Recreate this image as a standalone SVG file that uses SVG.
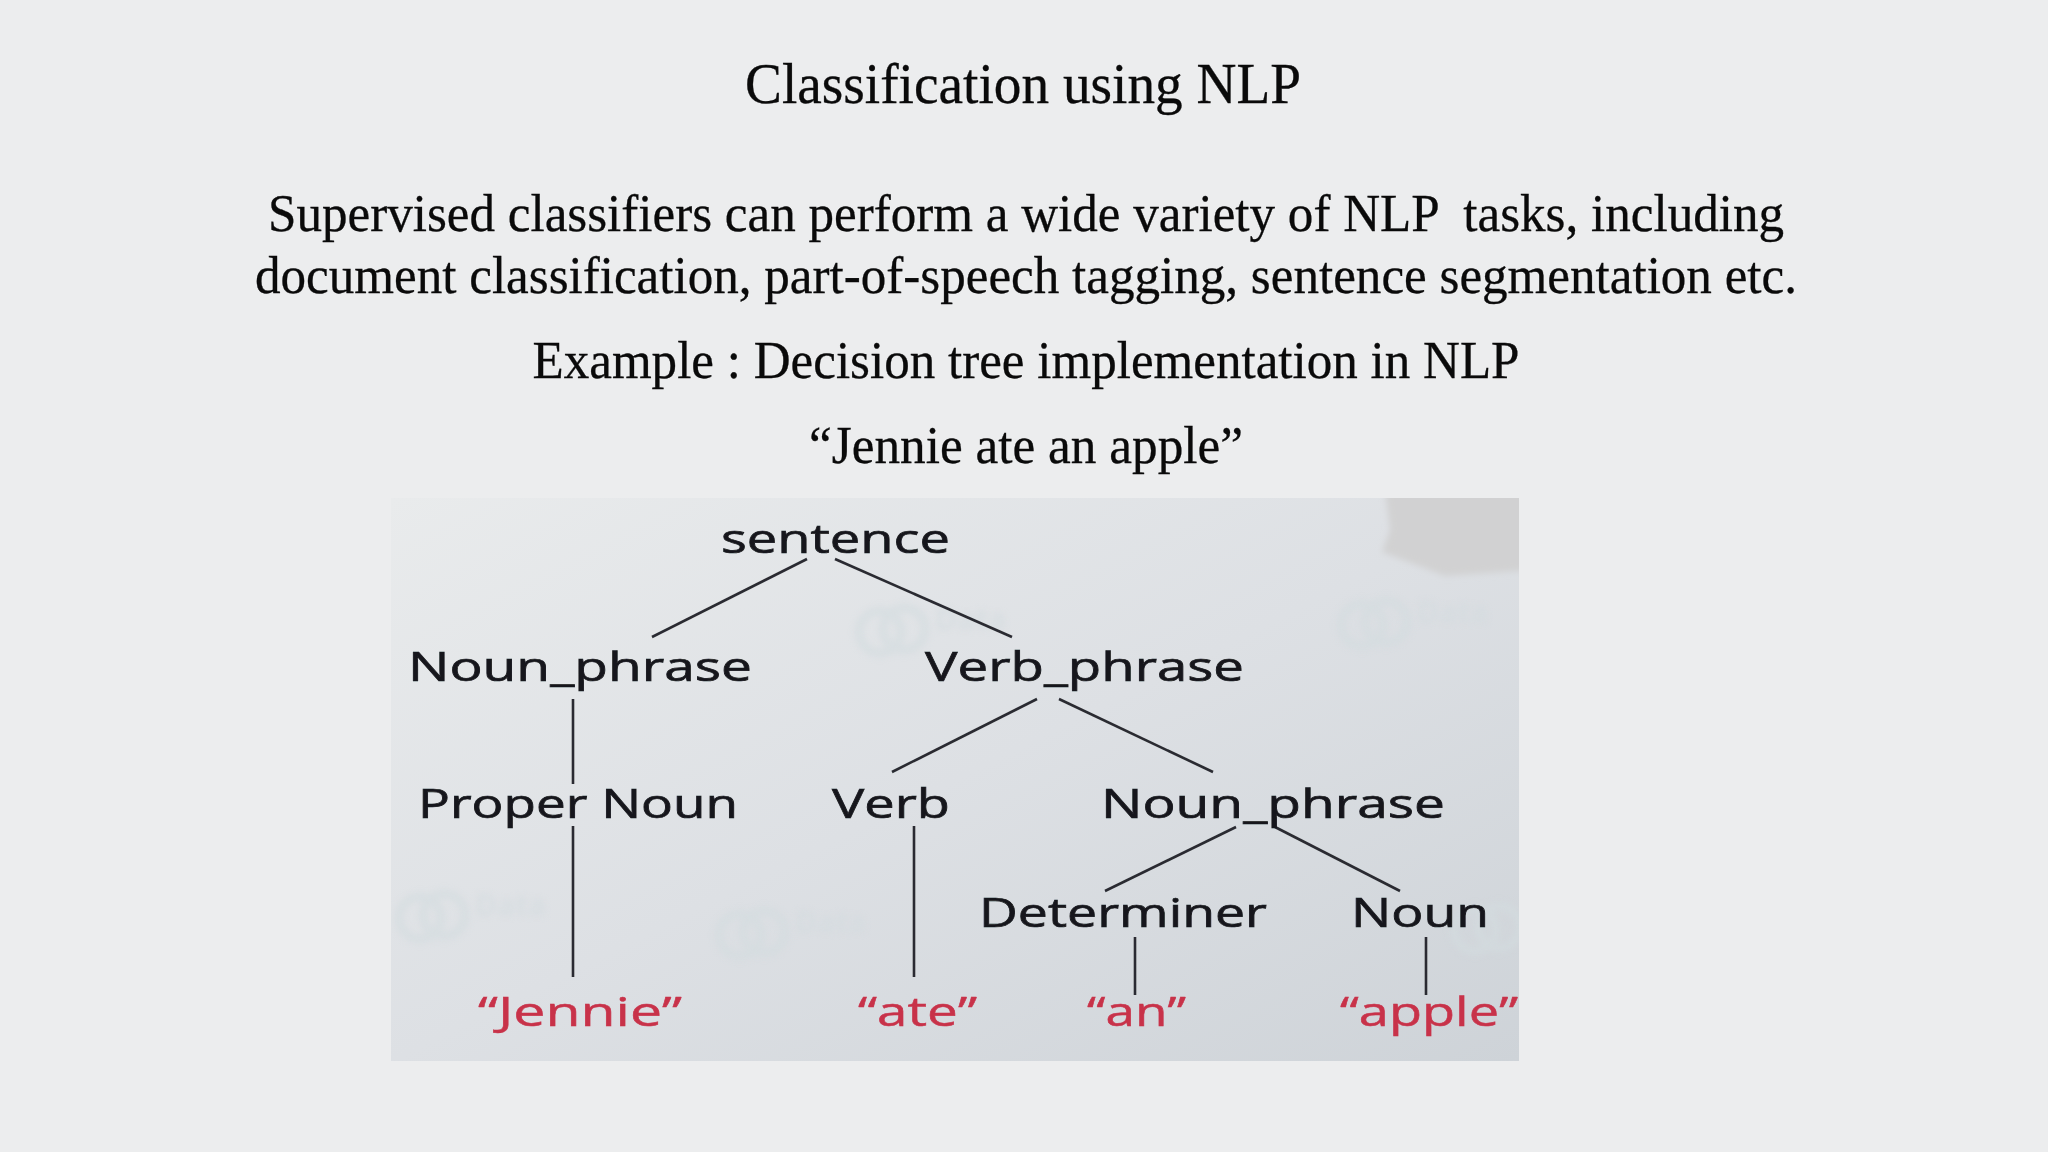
<svg xmlns="http://www.w3.org/2000/svg" width="2048" height="1152" viewBox="0 0 2048 1152">
<style>
.h{font-family:"Liberation Serif","Times New Roman",serif;fill:#0a0a0a;stroke:#0a0a0a;stroke-width:0.3;text-anchor:middle}
.t{font-family:"Open Sans","Noto Sans",sans-serif;font-size:41px;fill:#16181c;stroke:#16181c;stroke-width:0.7}
.r{font-family:"Open Sans","Noto Sans",sans-serif;font-size:41px;fill:#c8324a;stroke:#c8324a;stroke-width:0.5}
.c line{stroke:#2a2c30;stroke-width:2.6;fill:none}
.w{fill:none;stroke:#d3dcdf;stroke-width:9}
.wt{font-family:"Open Sans",sans-serif;font-size:30px;font-weight:700;fill:#d3dbdf}
</style>
<defs>
<linearGradient id="bg" x1="0" y1="0" x2="1" y2="1"><stop offset="0" stop-color="#e9ebec"/><stop offset="0.5" stop-color="#dde0e4"/><stop offset="1" stop-color="#ced3d8"/></linearGradient>
<filter id="s" x="-5%" y="-5%" width="110%" height="110%"><feGaussianBlur stdDeviation="0.6"/></filter>
<filter id="b" x="-20%" y="-20%" width="140%" height="140%"><feGaussianBlur stdDeviation="3"/></filter>
<clipPath id="img"><rect x="391" y="498" width="1128" height="563"/></clipPath>
<g id="mark"><circle cx="0" cy="0" r="21" class="w"/><circle cx="24" cy="-3" r="21" class="w"/><text x="55" y="-2" class="wt">Data</text></g>
</defs>
<rect width="2048" height="1152" fill="#ecedee"/>
<text class="h" x="1023" y="103" font-size="57" textLength="556" lengthAdjust="spacingAndGlyphs">Classification using NLP</text>
<text class="h" x="1026" y="231" font-size="53.5" textLength="1516" lengthAdjust="spacingAndGlyphs" xml:space="preserve">Supervised classifiers can perform a wide variety of NLP  tasks, including</text>
<text class="h" x="1026" y="293" font-size="53.5" textLength="1542" lengthAdjust="spacingAndGlyphs">document classification, part-of-speech tagging, sentence segmentation etc.</text>
<text class="h" x="1026" y="378" font-size="53.5" textLength="987" lengthAdjust="spacingAndGlyphs">Example : Decision tree implementation in NLP</text>
<text class="h" x="1026" y="463" font-size="53.5" textLength="434" lengthAdjust="spacingAndGlyphs">“Jennie ate an apple”</text>
<g id="tree-background" clip-path="url(#img)">
<rect x="391" y="498" width="1128" height="563" fill="url(#bg)"/>
<path d="M1385 490H1530V570L1445 576L1382 552L1390 530Z" fill="#d1d1d2" filter="url(#b)"/>
<g opacity="0.6" filter="url(#b)">
<use href="#mark" x="880" y="632"/><use href="#mark" x="1362" y="625"/><use href="#mark" x="420" y="918"/><use href="#mark" x="740" y="935"/><use href="#mark" x="1475" y="930"/>
</g>
</g>
<g id="connectors" class="c" filter="url(#s)">
<line x1="807" y1="559" x2="652" y2="637"/>
<line x1="835" y1="559" x2="1012" y2="637"/>
<line x1="573" y1="699" x2="573" y2="784"/>
<line x1="573" y1="826" x2="573" y2="977"/>
<line x1="1037" y1="699" x2="892" y2="772"/>
<line x1="1059" y1="699" x2="1213" y2="772"/>
<line x1="914" y1="826" x2="914" y2="977"/>
<line x1="1236" y1="827" x2="1105" y2="891"/>
<line x1="1275" y1="827" x2="1400" y2="891"/>
<line x1="1135" y1="937" x2="1135" y2="995"/>
<line x1="1426" y1="937" x2="1426" y2="995"/>
</g>
<g filter="url(#s)">
<g id="n-sentence"><text class="t" x="721" y="553" textLength="229" lengthAdjust="spacingAndGlyphs">sentence</text></g>
<g id="n-np1"><text class="t" x="408" y="681" textLength="344" lengthAdjust="spacingAndGlyphs">Noun_phrase</text></g>
<g id="n-vp"><text class="t" x="925" y="681" textLength="319" lengthAdjust="spacingAndGlyphs">Verb_phrase</text></g>
<g id="n-proper"><text class="t" x="418" y="818" textLength="320" lengthAdjust="spacingAndGlyphs">Proper Noun</text></g>
<g id="n-verb"><text class="t" x="832" y="818" textLength="118" lengthAdjust="spacingAndGlyphs">Verb</text></g>
<g id="n-np2"><text class="t" x="1101" y="818" textLength="344" lengthAdjust="spacingAndGlyphs">Noun_phrase</text></g>
<g id="n-det"><text class="t" x="979" y="927" textLength="288" lengthAdjust="spacingAndGlyphs">Determiner</text></g>
<g id="n-noun"><text class="t" x="1351" y="927" textLength="138" lengthAdjust="spacingAndGlyphs">Noun</text></g>
<g id="n-jennie"><text class="r" x="478" y="1026" textLength="204" lengthAdjust="spacingAndGlyphs">“Jennie”</text></g>
<g id="n-ate"><text class="r" x="858" y="1026" textLength="119" lengthAdjust="spacingAndGlyphs">“ate”</text></g>
<g id="n-an"><text class="r" x="1087" y="1026" textLength="99" lengthAdjust="spacingAndGlyphs">“an”</text></g>
<g id="n-apple"><text class="r" x="1340" y="1026" textLength="178" lengthAdjust="spacingAndGlyphs">“apple”</text></g>
</g>
</svg>
